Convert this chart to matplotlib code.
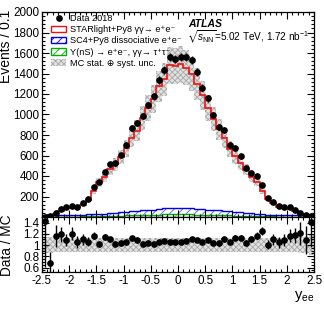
import numpy as np
import matplotlib
matplotlib.use("Agg")
import matplotlib.pyplot as plt
from matplotlib.ticker import MultipleLocator, FuncFormatter, AutoMinorLocator
from matplotlib.patches import Patch
from matplotlib.lines import Line2D

plt.rcParams['font.family'] = ['Liberation Sans', 'DejaVu Sans']
plt.rcParams['mathtext.fontset'] = 'custom'
plt.rcParams['mathtext.rm'] = 'Liberation Sans'
plt.rcParams['mathtext.it'] = 'Liberation Sans:italic'
plt.rcParams['mathtext.bf'] = 'Liberation Sans:bold'
plt.rcParams['mathtext.fallback'] = 'stixsans'
plt.rcParams['hatch.linewidth'] = 0.6

# ---------------- data ----------------
edges = np.round(np.arange(-2.5, 2.5001, 0.1), 2)

data = [3, 13, 36, 75, 95, 110, 100, 134, 179, 293,
        344, 442, 514, 524, 603, 703, 865, 918, 985, 1092,
        1177, 1337, 1437, 1560, 1543, 1565, 1560, 1535, 1413, 1260,
        1160, 995, 881, 845, 698, 670, 595, 475, 426, 400,
        312, 182, 149, 107, 100, 95, 68, 36, 20, 10]

mc_total = [2.1, 19.1, 31.0, 63.0, 87.2, 91.7, 95.2, 121.8, 168.9, 250.4,
            337.3, 387.7, 467.3, 513.7, 585.4, 669.5, 772.3, 842.2, 965.7, 1060.2,
            1153.9, 1273.3, 1343.0, 1480.0, 1470.0, 1490.5, 1457.9, 1395.5, 1296.3, 1188.7,
            1064.2, 956.7, 855.3, 768.2, 664.8, 592.9, 526.5, 461.2, 387.3, 341.9,
            249.6, 180.2, 135.5, 101.9, 91.7, 81.2, 58.1, 29.8, 18.3, 7.1]

upsilon_tautau = [1, 1, 2, 2, 3, 3, 4, 5, 6, 7,
                  8, 10, 11, 12, 14, 15, 17, 18, 20, 21,
                  22, 24, 25, 26, 27, 27, 26, 25, 24, 22,
                  21, 20, 18, 17, 15, 14, 12, 11, 10, 8,
                  7, 6, 5, 4, 3, 3, 2, 2, 1, 1]

sc4_dissoc = [11, 13, 13, 14, 14, 15, 15, 15, 19, 21,
              23, 24, 25, 26, 31, 35, 37, 40, 44, 47,
              50, 56, 59, 60, 60, 60, 60, 60, 58, 54,
              51, 48, 46, 43, 40, 34, 32, 29, 26, 24,
              21, 18, 17, 16, 15, 14, 14, 13, 11, 7]

unc = [0.15, 0.14, 0.13, 0.13, 0.13, 0.12, 0.12, 0.12, 0.12, 0.12,
       0.12, 0.12, 0.12, 0.12, 0.12, 0.12, 0.12, 0.12, 0.12, 0.12,
       0.12, 0.12, 0.12, 0.12, 0.12, 0.12, 0.12, 0.12, 0.12, 0.12,
       0.12, 0.12, 0.12, 0.12, 0.12, 0.12, 0.12, 0.12, 0.12, 0.12,
       0.12, 0.12, 0.12, 0.12, 0.12, 0.13, 0.13, 0.14, 0.15, 0.18]

legend_labels = [
    'Data 2018',
    'STARlight+Py8 \u03b3\u03b3\u2192 e\u207ae\u207b',
    'SC4+Py8 dissociative e\u207ae\u207b',
    '\u03a5(nS) \u2192 e\u207ae\u207b, \u03b3\u03b3\u2192 \u03c4\u207a\u03c4\u207b',
    'MC stat. \u2295 syst. unc.',
]

data = np.array(data, float)
mc = np.array(mc_total, float)
ups = np.array(upsilon_tautau, float)
sc4 = np.array(sc4_dissoc, float)
u = np.array(unc, float)
centers = 0.5 * (edges[1:] + edges[:-1])
ratio = data / mc
data_err = np.sqrt(data)
ratio_err = ratio / np.sqrt(data)

BAND_FC, BAND_EC, BAND_H = '#e2e2e2', '#a8a8a8', 'xxxxxx'

# ---------------- figure ----------------
fig = plt.figure(figsize=(3.24, 3.11), dpi=100)
L, W = 42 / 324, 272 / 324
ax = fig.add_axes([L, 1 - 217 / 311, W, 205 / 311])
axr = fig.add_axes([L, 1 - 272 / 311, W, 55 / 311], sharex=ax)

# main panel
ax.stairs(ups, edges, baseline=0, fill=True, hatch='////', facecolor='none',
          edgecolor='#33cc33', lw=0)
ax.stairs(ups, edges, color='#00b000', lw=1.0)
ax.stairs(ups + sc4, edges, baseline=ups, fill=True, hatch='////', facecolor='none',
          edgecolor='#5555ff', lw=0)
ax.stairs(ups + sc4, edges, color='#0000ee', lw=1.0)
ax.stairs(mc * (1 + u), edges, baseline=mc * (1 - u), fill=True, hatch=BAND_H,
          facecolor=BAND_FC, edgecolor=BAND_EC, lw=0)
ax.stairs(mc, edges, color='#ee1111', lw=1.2)
ax.errorbar(centers, data, yerr=data_err, fmt='o', color='black', ms=3.8,
            elinewidth=1.0, capsize=0, zorder=5)

ax.set_xlim(-2.5, 2.5)
ax.set_ylim(0, 2000)
ax.yaxis.set_major_locator(MultipleLocator(200))
ax.yaxis.set_minor_locator(AutoMinorLocator(5))
ax.xaxis.set_major_locator(MultipleLocator(0.5))
ax.xaxis.set_minor_locator(MultipleLocator(0.1))
ax.yaxis.set_major_formatter(FuncFormatter(lambda v, p: '' if v == 0 else '%g' % v))
ax.tick_params(axis='x', labelbottom=False)

# ratio panel
axr.stairs(1 + u, edges, baseline=1 - u, fill=True, hatch=BAND_H,
           facecolor=BAND_FC, edgecolor=BAND_EC, lw=0)
axr.errorbar(centers, ratio, yerr=ratio_err, fmt='o', color='black', ms=3.8,
             elinewidth=1.0, capsize=0, zorder=5)
axr.set_ylim(0.52, 1.5)
axr.yaxis.set_major_locator(MultipleLocator(0.2))
axr.yaxis.set_minor_locator(AutoMinorLocator(4))
axr.yaxis.set_major_formatter(FuncFormatter(lambda v, p: '%g' % round(v, 2)))
axr.xaxis.set_major_formatter(FuncFormatter(lambda v, p: '%g' % round(v, 2)))

for a in (ax, axr):
    a.tick_params(which='both', direction='in', top=True, right=True,
                  labelsize=8.4, pad=2, width=0.8)
    a.tick_params(which='major', length=5)
    a.tick_params(which='minor', length=2.5)
    for s in a.spines.values():
        s.set_linewidth(0.9)

fig.text(6 / 324, 1 - 10 / 311, 'Events / 0.1', rotation=90, ha='center', va='top',
         fontsize=10)
fig.text(7 / 324, 1 - 245 / 311, 'Data / MC', rotation=90, ha='center', va='center',
         fontsize=9.8)
fig.text(314 / 324, 1 - 296 / 311, 'y$_{\\mathrm{ee}}$', ha='right', va='center',
         fontsize=10.5)

fig.text(188 / 324, 1 - 24 / 311, 'ATLAS', fontsize=7.5, fontweight='bold',
         fontstyle='italic', ha='left', va='center')
fig.text(187 / 324, 1 - 37 / 311,
         r'$\sqrt{s_{\mathrm{NN}}}$=5.02 TeV, 1.72 nb$^{-1}$',
         fontsize=7.2, ha='left', va='center')

handles = [
    Line2D([], [], marker='o', color='black', ls='none', ms=3.8),
    Patch(facecolor='white', edgecolor='#ee1111', lw=1.0),
    Patch(facecolor='white', edgecolor='#0000ee', hatch='////', lw=1.0),
    Patch(facecolor='white', edgecolor='#00b000', hatch='////', lw=1.0),
    Patch(facecolor=BAND_FC, edgecolor=BAND_EC, hatch=BAND_H, lw=0),
]
ax.legend(handles, legend_labels, loc='upper left', bbox_to_anchor=(0.033, 0.99),
          frameon=False, fontsize=6.6, borderpad=0, borderaxespad=0,
          handlelength=1.66, handleheight=0.7, handletextpad=0.45,
          labelspacing=0.24)

fig.savefig('out.png', dpi=100)
